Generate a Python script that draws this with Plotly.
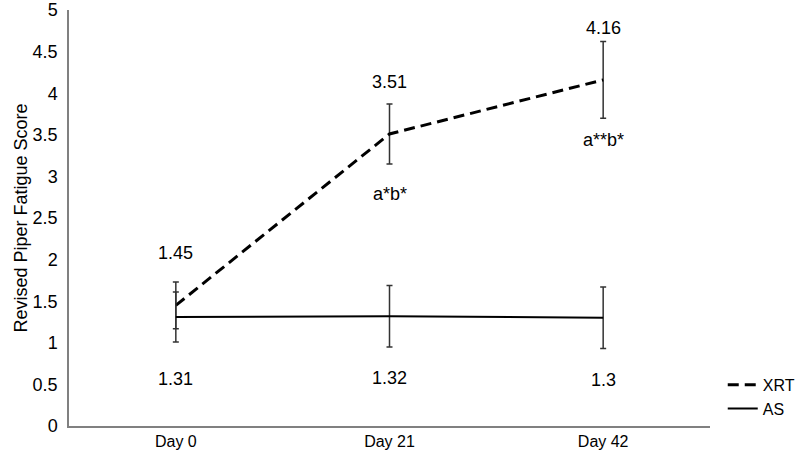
import plotly.graph_objects as go

# Data
days = ["Day 0", "Day 21", "Day 42"]
xrt_mean = [1.45, 3.51, 4.16]
xrt_err = [0.28, 0.36, 0.46]
as_mean = [1.31, 1.32, 1.30]
as_err = [0.30, 0.37, 0.37]
sig_labels = ["", "a*b*", "a**b*"]
y_ticks = [0, 0.5, 1, 1.5, 2, 2.5, 3, 3.5, 4, 4.5, 5]

font = "Liberation Sans, Arial, sans-serif"
lab_font = dict(size=18, color="black", family=font)

fig = go.Figure()

fig.add_trace(go.Scatter(
    x=days, y=xrt_mean, mode="lines", name="XRT",
    line=dict(color="black", width=3, dash="11px,6px"),
    error_y=dict(type="data", array=xrt_err, visible=True,
                 color="#333333", thickness=1.5, width=3),
))
fig.add_trace(go.Scatter(
    x=days, y=as_mean, mode="lines", name="AS",
    line=dict(color="black", width=2),
    error_y=dict(type="data", array=as_err, visible=True,
                 color="#333333", thickness=1.5, width=3),
))

# value labels
for d, v in zip(days, xrt_mean):
    fig.add_annotation(x=d, y=v, text=f"{v:g}", showarrow=False, yshift=52,
                       font=lab_font)
for d, v in zip(days, as_mean):
    fig.add_annotation(x=d, y=v, text=f"{v:g}", showarrow=False, yshift=-62,
                       font=lab_font)
for d, v, s in zip(days, xrt_mean, sig_labels):
    if s:
        fig.add_annotation(x=d, y=v, text=s, showarrow=False, yshift=-60,
                           font=lab_font)

fig.update_layout(
    width=810, height=450,
    margin=dict(l=69, r=93, t=10, b=24),
    plot_bgcolor="white", paper_bgcolor="white",
    font=dict(family=font, size=17, color="black"),
    xaxis=dict(type="category", range=[-0.5, 2.5], showgrid=False,
               showline=True, linecolor="#808080", linewidth=1.5,
               ticks="", zeroline=False, automargin=False,
               tickfont=dict(size=16)),
    yaxis=dict(range=[0, 5], tickvals=y_ticks, ticktext=[f"{t:g}" for t in y_ticks],
               showgrid=False, zeroline=False, automargin=False,
               showline=True, linecolor="#808080", linewidth=1.5, ticks="",
               tickfont=dict(size=18), ticklabelstandoff=6,
               ticklabeloverflow="allow",
               title=dict(text="Revised Piper Fatigue Score", standoff=0,
                          font=dict(size=18))),
    legend=dict(x=1.14, y=0.14, xanchor="right", yanchor="top",
                bgcolor="rgba(0,0,0,0)", font=dict(size=16),
                tracegroupgap=0, itemwidth=30, borderwidth=0),
    showlegend=True,
)

# the page body has a default 8px margin; drop it so the figure fills the window
fig.write_html("out.html", config={"displayModeBar": False},
               post_script="document.body.style.margin='0';")
